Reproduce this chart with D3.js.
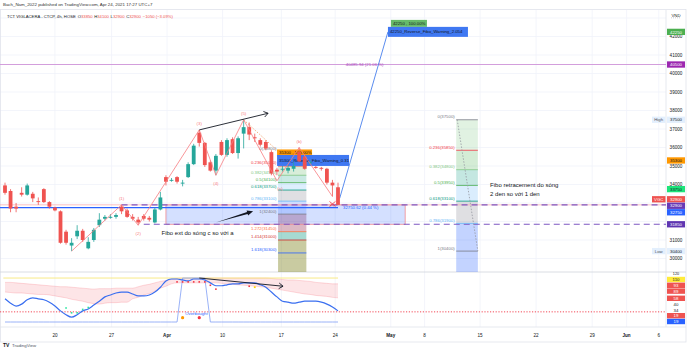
<!DOCTYPE html>
<html><head><meta charset="utf-8">
<script src="https://cdn.jsdelivr.net/npm/d3@7/dist/d3.min.js"></script>
<style>
html,body{margin:0;padding:0;background:#fff;}
svg{display:block;font-family:"Liberation Sans",Arial,Helvetica,sans-serif;}
</style></head><body>
<svg id="chart" width="690" height="350"></svg>
<script>
// ---- TCT 4h candles ----
const opens =[33950,33650,32800,33550,33450,33500,33100,33750,33050,32750,32550,31450,30700,31200,31500,30550,31000,31800,32150,32200,32250,32800,32600,32250,32100,32300,32200,31950,32650,34400,34200,34400,34050,34400,35100,36800,36250,35200,34750,36300,35600,36450,35700,36750,37100,36550,36400,36300,35750,34800,34800,34750,34850,35750,35500,35150,34950,34900,34850,34100,33850];
const highs =[34100,33750,33000,33850,34050,33600,33300,33800,33100,32800,32600,31550,31100,31800,31600,31150,31650,32450,32350,32400,32450,32900,32700,32400,32250,32400,32300,32750,33600,34500,34350,34450,34250,35200,36200,36950,36300,35300,35650,36400,36500,36550,36600,37500,37350,36750,36500,36400,35850,34900,35000,35050,35200,36000,35600,35300,35000,34950,34900,34250,34100];
const lows  =[33450,32500,32500,33350,33400,33050,32900,33000,32700,32550,30800,30750,30400,31050,30900,30500,30900,31700,32050,32150,32150,32400,32200,32050,31800,32050,32000,31900,32600,33950,34150,34050,33900,34350,35050,36050,34950,34700,34500,35550,35500,35650,35400,35950,36400,36300,36050,35850,34500,34500,34700,34600,34700,35200,34800,35050,34850,34750,34000,33350,32900];
const closes=[33550,32700,32700,33450,33950,33250,33050,33050,32800,32600,30850,30850,30850,31500,31000,30900,31550,32100,32250,32250,32350,32550,32250,32150,31950,32150,32100,32650,33300,34150,34250,34150,34100,35100,36100,36250,35050,34750,35550,35600,36400,35700,36500,37100,36700,36500,36150,35950,34600,34700,34850,34900,35000,35250,34850,35200,34900,34850,34100,33950,32900];

// ---- time axis ----
const tickBars  =[9,19.2,29.2,39.2,49.8,59.5,69.5,75.6,85.6,95.7,105.8,112,117.8];
const tickLabels=["20","27","Apr","10","17","24","May","8","15","22","29","Jun","6"];
const priceTicks=[30000,31000,32000,33000,34000,35000,36000,37000,38000,39000,40000,41000,42000];
const priceGrid =[30000,31000,32000,33000,34000,35000,36000,37000,38000,39000,40000,41000,42000,43000];

// ---- oscillator pane ----
const oscValues =[67,58,52,56,65,69,67,65,60,52,42,34,29,34,42,46,54,62,71,75,79,81,81,77,73,73,75,81,91,104,108,108,106,104,108,108,106,100,94,94,96,98,98,100,100,100,96,91,81,71,62,60,58,60,62,62,62,60,56,50,42];
const cloudUpper=[101,101,100,99,98,97,96,95,94,93,92,92,91,90,89,88,87,88,88,88,89,89,89,89,92,95,97,100,103,105,107,109,110,110,110,110,110,110,110,110,110,110,110,110,110,110,110,110,109,108,107,106,106,105,104,103,101,100,99,98,98];
const cloudLower=[81,80,79,79,78,77,76,76,75,73,71,69,66,64,62,59,57,56,58,59,59,60,60,67,70,75,78,83,89,93,98,100,100,100,100,100,100,100,100,99,98,97,96,95,94,93,92,91,89,87,85,83,81,79,77,76,74,73,72,70,69];
const overbought=[19,19,19,19,19,19,19,19,19,19,19,19,19,19,19,19,19,19,19,19,19,19,19,19,19,19,19,19,19,19,19,19,110,110,110,110,110,19,19,19,19,19,19,19,19,19,19,19,19,19,19,19,19,19,19,19,19,19,19,19,19];
const upDotBars=[11,12,13,14,15], upDotVals=[48,38,38,45,49];
const dnDotBars=[31,32,33,34,35,36,37,38,44], dnDotVals=[102,102,102,102,102,102,95,87,93];
const warnDotBars=[45], warnDotVals=[91];
const bigDots=[{bar:32,v:28,c:"#ff9800"},{bar:35,v:28,c:"#f23645"}];
const obLevel=110, osLevel=40;

// ---- Elliott count ----
const waveBars  =[12,21,24,35,38,43,49,53,59];
const wavePrices=[30400,32900,31800,36950,34500,37500,34200,36000,33350];
const waveLabels=["","(1)","(2)","(3)","(4)","(5)","(a)","(b)","(c)"];

// ---- Fibonacci tools ----
const extRatios=[0,0.236,0.382,0.5,0.618,0.786,1,1.272,1.414,1.618];
const extPrices=[35800,35000,34500,34100,33700,33100,32400,31450,31000,30300];
const extColors=["#787b86","#f23645","#81c784","#4caf50","#089981","#64b5f6","#787b86","#ff7043","#d32f2f","#2962ff"];
const extFills =["rgba(242,54,69,0.16)","rgba(129,199,132,0.22)","rgba(76,175,80,0.22)","rgba(8,153,129,0.22)","rgba(100,181,246,0.22)","rgba(120,123,134,0.24)","rgba(41,98,255,0.2)","rgba(150,40,75,0.33)","rgba(8,153,129,0.36)","rgba(120,125,20,0.4)"];
const retRatios=[0,0.236,0.382,0.5,0.618,0.786,1];
const retPrices=[37500,35850,34800,33950,33100,31900,30400];
const retColors=["#787b86","#f23645","#81c784","#4caf50","#089981","#64b5f6","#787b86"];
const retFills =["rgba(242,54,69,0.24)","rgba(129,199,132,0.24)","rgba(76,175,80,0.24)","rgba(8,153,129,0.24)","rgba(100,181,246,0.24)","rgba(120,123,134,0.24)","rgba(41,98,255,0.28)"];

const svg=d3.select("#chart");
const PL=0, PR=666, AXR=686, MT=10, MB=272, IB=327, TB=342;
const x =d3.scaleLinear().domain([0,60]).range([5,338]);
const y =d3.scaleLinear().domain([30000,42000]).range([258.5,36.5]);
const yi=d3.scaleLinear().domain([19,120]).range([322,273.2]);
const INK="#131722";

const defs=svg.append("defs");
defs.append("clipPath").attr("id","mainClip").append("rect").attr("x",PL).attr("y",MT).attr("width",PR-PL).attr("height",MB-MT);
defs.append("clipPath").attr("id","indClip").append("rect").attr("x",PL).attr("y",MB).attr("width",PR-PL).attr("height",IB-MB);

// ---- grid ----
const grid=svg.append("g").attr("stroke","#f0f3fa").attr("stroke-width",0.8);
priceGrid.filter(p=>y(p)>MT&&y(p)<MB).forEach(p=>grid.append("line").attr("x1",PL).attr("x2",PR).attr("y1",y(p)).attr("y2",y(p)));
tickBars.forEach(b=>grid.append("line").attr("x1",x(b)).attr("x2",x(b)).attr("y1",MT).attr("y2",IB));

// ---- frame ----
const fr=svg.append("g").attr("stroke","#e0e3eb").attr("stroke-width",0.8).attr("fill","none");
fr.append("rect").attr("x",0.5).attr("y",MT-0.5).attr("width",AXR-0.5).attr("height",TB-MT+0.5);
fr.append("line").attr("x1",PR).attr("x2",PR).attr("y1",MT).attr("y2",IB);
fr.append("line").attr("x1",0).attr("x2",AXR).attr("y1",MB).attr("y2",MB).attr("stroke","#d1d4dc");
fr.append("line").attr("x1",0).attr("x2",AXR).attr("y1",IB).attr("y2",IB);

// ---- titles ----
svg.append("text").attr("x",3).attr("y",6.2).attr("font-size",4.4).attr("fill","#333")
  .text("Bach_Nam_2022 published on TradingView.com, Apr 24, 2021 17:27 UTC+7");
const n=closes.length-1, chg=closes[n]-closes[n-1];
const fmt=v=>(v<0?"\u2212":"")+Math.abs(v);
const hdr=svg.append("text").attr("x",7).attr("y",17.5).attr("font-size",4.2).attr("fill",INK);
hdr.append("tspan").text("TCT VIGLACERA - CTCP, 4h, HOSE");
const valCol=chg<0?"#ef5350":"#26a69a";
[["O",opens[n]],["H",highs[n]],["L",lows[n]],["C",closes[n]]].forEach((d,k)=>{
  hdr.append("tspan").attr("dx",k===0?2:1.6).text(d[0]);
  hdr.append("tspan").attr("fill",valCol).text(d[1]);
});
hdr.append("tspan").attr("dx",2).attr("fill",valCol).text(fmt(chg)+" ("+fmt((chg/closes[n-1]*100).toFixed(2))+"%)");

// ================= main pane =================
const main=svg.append("g").attr("clip-path","url(#mainClip)");

// fib extension (wave c vs a)
const extL=x(49.2), extR=x(54.3);
extPrices.forEach((p,k)=>{
  const yTop=y(p), yBot=k<extPrices.length-1?y(extPrices[k+1]):MB;
  main.append("rect").attr("x",extL).attr("width",extR-extL).attr("y",yTop).attr("height",yBot-yTop).attr("fill",extFills[k+1]||extFills[extFills.length-1]);
});
// fib retracement (wave 2 vs wave 1)
const retL=x(81.3), retR=x(85.2);
retPrices.forEach((p,k)=>{
  const yTop=y(p), yBot=k<retPrices.length-1?y(retPrices[k+1]):MB;
  main.append("rect").attr("x",retL).attr("width",retR-retL).attr("y",yTop).attr("height",yBot-yTop).attr("fill",retFills[Math.min(k+1,retFills.length-1)]);
});

// target zone between the two dashed levels
main.append("rect").attr("x",x(29)).attr("width",x(72.1)-x(29)).attr("y",y(32900)).attr("height",y(31850)-y(32900))
  .attr("fill","rgba(41,98,255,0.2)").attr("stroke","#f08a90").attr("stroke-width",0.8);

// horizontal levels
main.append("line").attr("x1",PL).attr("x2",PR).attr("y1",y(40485.94)).attr("y2",y(40485.94)).attr("stroke","#ce93d8").attr("stroke-width",0.9);
main.append("line").attr("x1",PL).attr("x2",PR).attr("y1",y(closes[n])).attr("y2",y(closes[n])).attr("stroke","#f5a3a6").attr("stroke-width",0.7);
main.append("line").attr("x1",PL).attr("x2",x(60)).attr("y1",y(32750.62)).attr("y2",y(32750.62)).attr("stroke","#2962ff").attr("stroke-width",1.4);
main.append("line").attr("x1",x(21)).attr("x2",PR).attr("y1",y(32900)).attr("y2",y(32900)).attr("stroke","#7e57c2").attr("stroke-width",1.1).attr("stroke-dasharray","6,4");
main.append("line").attr("x1",x(25)).attr("x2",PR).attr("y1",y(31850)).attr("y2",y(31850)).attr("stroke","#7e57c2").attr("stroke-width",1.1).attr("stroke-dasharray","6,4");

// fib level lines and labels
const lvl=(g,L,R,prices,ratios,colors)=>prices.forEach((p,k)=>{
  g.append("line").attr("x1",L).attr("x2",R).attr("y1",y(p)).attr("y2",y(p)).attr("stroke",colors[k]).attr("stroke-width",0.8);
  g.append("text").attr("x",L-1.5).attr("y",y(p)-1.6).attr("text-anchor","end").attr("font-size",4.3).attr("fill",colors[k]).text(ratios[k]+"("+p+")");
});
lvl(main,extL,extR,extPrices,extRatios,extColors);
lvl(main,retL,retR,retPrices,retRatios,retColors);
main.append("line").attr("x1",retL+1).attr("y1",y(retPrices[0])).attr("x2",retR).attr("y2",y(retPrices[retPrices.length-1]))
  .attr("stroke","#9598a1").attr("stroke-width",0.8).attr("stroke-dasharray","1.5,1.5");
main.append("line").attr("x1",x(43)).attr("y1",y(37500)).attr("x2",extL).attr("y2",y(extPrices[0]))
  .attr("stroke","#f0a060").attr("stroke-width",0.8).attr("stroke-dasharray","1.5,1.5");

// projection and its labels
main.append("line").attr("x1",x(60.3)).attr("y1",y(33250)).attr("x2",x(69)).attr("y2",y(42250)).attr("stroke","#5b8def").attr("stroke-width",1);
function tag(g,x0,yc,w,h,bg,fg,txt){
  g.append("rect").attr("x",x0).attr("y",yc-h/2).attr("width",w).attr("height",h).attr("fill",bg);
  g.append("text").attr("x",x0+2).attr("y",yc).attr("dominant-baseline","central").attr("font-size",4.3).attr("fill",fg).text(txt);
}
tag(main,x(69)+3,y(42250)-8.5,36,7,"#66bb6a",INK,"42250 , 100.00%");
tag(main,x(69),y(42250),80,10,"#3f78f2",INK,"42250_Reverse_Fibo_Warning_2.054");
tag(main,extL-1,y(35300)-7.5,35,7,"#ff9800",INK,"35300 , 100.00%");
tag(main,extL-1,y(35300),72,11,"#3f78f2",INK,"35300_Reverse_Fibo_Warning_0.31");

main.append("text").attr("x",x(60)+5).attr("y",y(32750.62)+1.5).attr("font-size",4.3).attr("fill","#2962ff").text("32750.62 (0.44 %)");
main.append("text").attr("x",x(68.2)).attr("y",y(40485.94)+1.5).attr("text-anchor","end").attr("font-size",4.3).attr("fill","#ab47bc").text("40485.94 (21.06 %)");

// candles
const gC=main.append("g");
closes.forEach((c,i)=>{
  const col=c>=opens[i]?"#26a69a":"#ef5350";
  gC.append("line").attr("x1",x(i)).attr("x2",x(i)).attr("y1",y(highs[i])).attr("y2",y(lows[i])).attr("stroke",col).attr("stroke-width",0.8);
  const t=y(Math.max(opens[i],c)), b=y(Math.min(opens[i],c));
  gC.append("rect").attr("x",x(i)-1.9).attr("width",3.8).attr("y",t).attr("height",Math.max(0.9,b-t)).attr("fill",col);
});

// Elliott wave path and labels
const wpts=waveBars.map((b,k)=>[x(b),y(wavePrices[k])]);
main.append("path").attr("d",d3.line()(wpts)).attr("fill","none").attr("stroke","#f77c80").attr("stroke-width",0.8);
waveLabels.forEach((lb,k)=>{
  if(!lb)return;
  const prev=wavePrices[k-1], next=wavePrices[k+1]!==undefined?wavePrices[k+1]:prev;
  const peak=wavePrices[k]>prev&&wavePrices[k]>=next;
  main.append("text").attr("x",wpts[k][0]+(lb==="(a)"?3:0)).attr("y",wpts[k][1]+(peak?-6.5:8)).attr("text-anchor","middle")
    .attr("dominant-baseline","central").attr("font-size",4.3).attr("fill","#f77c80").text(lb);
});
// cross mark at the end of wave c
const cx=x(59), cy=y(32950);
[[-3,-2.5,3,2.5],[-3,2.5,3,-2.5]].forEach(d=>main.append("line").attr("x1",cx+d[0]).attr("y1",cy+d[1]).attr("x2",cx+d[2]).attr("y2",cy+d[3]).attr("stroke","#f23645").attr("stroke-width",0.8));

// arrows
function chevron(g,x1,y1,x2,y2,sw){
  g.append("line").attr("x1",x1).attr("y1",y1).attr("x2",x2).attr("y2",y2).attr("stroke","#131722").attr("stroke-width",sw);
  const a=Math.atan2(y2-y1,x2-x1), s=5;
  [0.6,-0.6].forEach(o=>g.append("line").attr("x1",x2).attr("y1",y2).attr("x2",x2-s*Math.cos(a+o)).attr("y2",y2-s*Math.sin(a+o)).attr("stroke","#131722").attr("stroke-width",sw));
}
function solidArrow(g,x1,y1,x2,y2){
  const a=Math.atan2(y2-y1,x2-x1), s=6, w=2.6;
  const bx=x2-s*Math.cos(a), by=y2-s*Math.sin(a), nx=-Math.sin(a), ny=Math.cos(a);
  g.append("path").attr("d",`M${x1},${y1}L${bx+nx*1},${by+ny*1}L${bx+nx*w},${by+ny*w}L${x2},${y2}L${bx-nx*w},${by-ny*w}L${bx-nx*1},${by-ny*1}Z`).attr("fill","#131722");
}
chevron(main,x(35),y(36950),x(47.4),y(37850),0.9);
solidArrow(main,x(38),y(31950),x(44.7),y(32550));

// notes
main.append("text").attr("x",x(28.2)).attr("y",y(31250)).attr("font-size",6).attr("fill",INK).text("Fibo ext do sóng c so với a");
main.append("text").attr("x",x(87.4)).attr("y",y(33870)).attr("font-size",6).attr("fill",INK).text("Fibo retracement do sóng");
main.append("text").attr("x",x(87.4)).attr("y",y(33400)).attr("font-size",6).attr("fill",INK).text("2 den so với 1 den");

// ================= oscillator pane =================
const ind=svg.append("g").attr("clip-path","url(#indClip)");
const bars=d3.range(oscValues.length);
ind.append("line").attr("x1",PL).attr("x2",PR).attr("y1",yi(osLevel)).attr("y2",yi(osLevel)).attr("stroke","#f23645").attr("stroke-width",0.9).attr("stroke-dasharray","1.2,1.6");
ind.append("path").attr("d",d3.area().x(i=>x(i)).y0(i=>yi(cloudLower[i])).y1(i=>yi(cloudUpper[i])).curve(d3.curveMonotoneX)(bars))
  .attr("fill","rgba(242,54,69,0.13)");
[cloudUpper,cloudLower].forEach(s=>ind.append("path").attr("d",d3.line().x(i=>x(i)).y(i=>yi(s[i])).curve(d3.curveMonotoneX)(bars))
  .attr("fill","none").attr("stroke","rgba(242,54,69,0.25)").attr("stroke-width",0.7));
ind.append("line").attr("x1",x(-0.3)).attr("x2",x(60)).attr("y1",yi(obLevel)).attr("y2",yi(obLevel)).attr("stroke","#f7e87a").attr("stroke-width",0.9);
ind.append("path").attr("d",d3.line().x(i=>x(i)).y(i=>yi(overbought[i]))(bars)).attr("fill","none").attr("stroke","#8fa9f6").attr("stroke-width",0.9);
ind.append("path").attr("d",d3.line().x(i=>x(i)).y(i=>yi(oscValues[i])).curve(d3.curveMonotoneX)(bars)).attr("fill","none").attr("stroke","#3a6ff0").attr("stroke-width",1.2);
upDotBars.forEach((b,k)=>ind.append("rect").attr("x",x(b)-0.8).attr("y",yi(upDotVals[k])-0.8).attr("width",1.6).attr("height",1.6).attr("fill","#2ee6a0"));
dnDotBars.forEach((b,k)=>ind.append("rect").attr("x",x(b)-0.8).attr("y",yi(dnDotVals[k])-0.8).attr("width",1.6).attr("height",1.6).attr("fill","#f23645"));
warnDotBars.forEach((b,k)=>ind.append("rect").attr("x",x(b)-0.9).attr("y",yi(warnDotVals[k])-0.9).attr("width",1.8).attr("height",1.8).attr("fill","#ffd600"));
bigDots.forEach(d=>ind.append("circle").attr("cx",x(d.bar)).attr("cy",yi(d.v)).attr("r",1.6).attr("fill",d.c));
ind.append("text").attr("x",x(34.5)).attr("y",yi(33)).attr("text-anchor","middle").attr("font-size",4.3).attr("fill","#2962ff").text("Overbought");
chevron(ind,x(35),yi(110),x(50.1),yi(93),0.9);

// ================= axes =================
const ax=svg.append("g");
tickBars.forEach((b,k)=>ax.append("text").attr("x",x(b)).attr("y",336.5).attr("text-anchor","middle").attr("font-size",4.6)
  .attr("font-weight",/[A-Za-z]/.test(tickLabels[k])?"bold":"normal").attr("fill",INK).text(tickLabels[k]));

function stack(items,gap,lo,hi){
  items.forEach((d,k)=>d.o=k);
  items.sort((a,b)=>a.t-b.t||a.o-b.o);
  const place=c=>{const m=c.items.length;let s=d3.mean(c.items,d=>d.t)-(m-1)*gap/2;s=Math.max(lo,Math.min(hi-(m-1)*gap,s));c.s=s;c.e=s+(m-1)*gap;};
  let cl=items.map(d=>({items:[d]}));cl.forEach(place);
  let again=true;
  while(again){again=false;
    for(let i=0;i<cl.length-1;i++){
      if(cl[i+1].s-cl[i].e<gap){const c={items:cl[i].items.concat(cl[i+1].items)};place(c);cl.splice(i,2,c);again=true;break;}
    }
  }
  cl.forEach(c=>c.items.forEach((d,k)=>d.y=c.s+k*gap));
  return items;
}
function badge(d,h){
  if(d.bg) ax.append("rect").attr("x",PR+1).attr("y",d.y-h/2).attr("width",18).attr("height",h).attr("fill",d.bg);
  ax.append("text").attr("x",PR+10).attr("y",d.y+0.2).attr("text-anchor","middle").attr("dominant-baseline","central").attr("font-size",4.3).attr("fill",d.fg||INK).text(d.text);
  if(d.tag){
    ax.append("rect").attr("x",PR-14).attr("y",d.y-h/2).attr("width",13.5).attr("height",h).attr("fill",d.tagBg);
    ax.append("text").attr("x",PR-7.3).attr("y",d.y+0.2).attr("text-anchor","middle").attr("dominant-baseline","central").attr("font-size",4.3).attr("fill",d.tagFg).text(d.tag);
  }
}
const mainBadges=[
 {v:42250,text:"42250",bg:"#4caf50",fg:"#fff"},
 {v:40485.94,text:"40500",bg:"#9c27b0",fg:"#fff"},
 {v:37500,text:"37500",bg:"#e3effd",fg:INK,tag:"High",tagBg:"#e3effd",tagFg:"#50535e"},
 {v:35300,text:"35300",bg:"#ff9800",fg:INK},
 {v:33750,text:"33750",bg:"#1de47a",fg:INK},
 {v:32900,text:"32900",bg:"#ef5350",fg:"#fff",tag:"VGC",tagBg:"#ef5350",tagFg:"#fff"},
 {v:32900,text:"32900",bg:"#673ab7",fg:"#fff"},
 {v:32750.62,text:"32750",bg:"#2962ff",fg:"#fff"},
 {v:31850,text:"31850",bg:"#5e35b1",fg:"#fff"},
 {v:30400,text:"30400",bg:"#e3effd",fg:INK,tag:"Low",tagBg:"#e3effd",tagFg:"#50535e"}
];
mainBadges.forEach(d=>d.t=y(d.v));
stack(mainBadges,6.5,MT+3,MB-3);
priceTicks.forEach(p=>{
  const yy=y(p);
  if(mainBadges.some(b=>Math.abs(b.y-yy)<4.5))return;
  ax.append("text").attr("x",PR+10).attr("y",yy).attr("text-anchor","middle").attr("dominant-baseline","central").attr("font-size",4.6).attr("fill",INK).text(p);
});
mainBadges.forEach(d=>badge(d,6.3));
ax.append("text").attr("x",PR+10).attr("y",15).attr("text-anchor","middle").attr("dominant-baseline","central").attr("font-size",4.3).attr("fill",INK).text("VND");
ax.append("line").attr("x1",PR+5).attr("x2",PR+15).attr("y1",17.8).attr("y2",17.8).attr("stroke","#9598a1").attr("stroke-width",0.5).attr("stroke-dasharray","1,1");

const indBadges=[
 {v:110,text:"110",bg:"#ffeb3b",fg:INK},
 {v:93,text:"93",bg:"#ef5350",fg:"#fff"},
 {v:89,text:"89",bg:"#ef5350",fg:"#fff"},
 {v:58,text:"58",bg:"#ef5350",fg:"#fff"},
 {v:40,text:"40",bg:null,fg:INK},
 {v:34,text:"34",bg:null,fg:INK},
 {v:19,text:"19",bg:"#ef5350",fg:"#fff"},
 {v:19,text:"19",bg:"#2962ff",fg:"#fff"}
];
indBadges.forEach(d=>d.t=yi(d.v));
stack(indBadges,5.8,MB+7.5,IB-5.5);
ax.append("text").attr("x",PR+10).attr("y",274.3).attr("text-anchor","middle").attr("dominant-baseline","central").attr("font-size",3.8).attr("fill",INK).text("120");
indBadges.forEach(d=>badge(d,5.4));

// footer
const ft=svg.append("g");
ft.append("text").attr("x",3).attr("y",346.5).attr("font-size",5).attr("font-weight","900").attr("fill",INK).text("TV");
ft.append("text").attr("x",12).attr("y",346.5).attr("font-size",4.4).attr("fill","#50535e").text("TradingView");
</script></body></html>
